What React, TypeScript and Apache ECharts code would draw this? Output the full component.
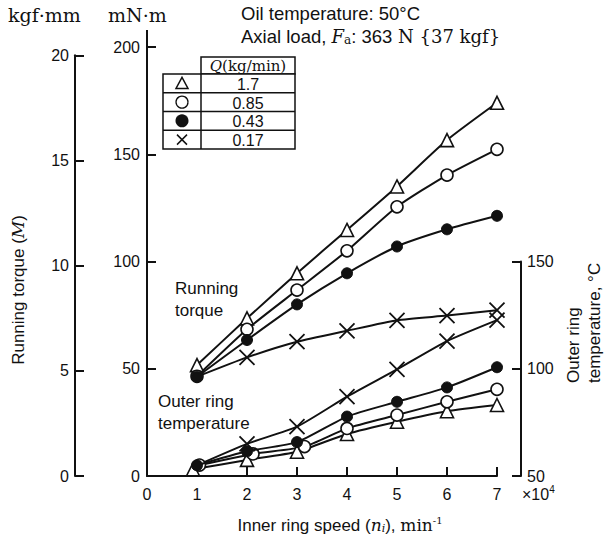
import React, { useEffect, useRef } from "react";
import * as echarts from "echarts";

// Inner ring speed, x10^4 min^-1
const speeds = [1, 2, 3, 4, 5, 6, 7];
const speedsTempTri = [0.92, 2, 3, 4, 5, 6, 7];
const speedsTempOpen = [1.05, 2.12, 3.15, 4, 5, 6, 7];
const flowRates = ["1.7", "0.85", "0.43", "0.17"];

// Running torque, mN·m
const torqueTri = [51.7, 73.5, 94.5, 114.7, 135, 156.6, 174];
const torqueOpen = [46.5, 68.4, 86.7, 105, 125.5, 140.3, 152.3];
const torqueFilled = [46.3, 63.4, 80, 94.5, 107, 115, 121.3];
const torqueCross = [46.3, 55.3, 62.6, 67.7, 72.6, 74.8, 77.3];

// Outer ring temperature, °C
const tempTri = [53.1, 57.5, 61.3, 69.6, 75.3, 80.2, 83.1];
const tempOpen = [55.1, 60.3, 63.7, 72.2, 78.4, 84.6, 90.4];
const tempFilled = [55, 61.5, 65.8, 77.7, 84.6, 91.3, 100.7];
const tempCross = [55, 65, 73, 87, 99.7, 112.9, 122.7];

const sans = "'Liberation Sans', Arial, Helvetica, sans-serif";
const serif = "'DejaVu Serif', 'Liberation Serif', serif";
const ink = "#111";
const CROSS = "path://M0,0L10,10M10,0L0,10";

const pairs = (xs: number[], ys: number[], hideFirst = false) =>
  xs.map((x, i) =>
    hideFirst && i === 0 ? { value: [x, ys[i]], symbol: "none" } : [x, ys[i]]
  );

type Kind = "tri" | "open" | "filled" | "cross";
const markerStyle = (k: Kind) => {
  if (k === "tri")
    return { symbol: "triangle", symbolSize: 13, itemStyle: { color: "#fff", borderColor: ink, borderWidth: 1.6 } };
  if (k === "open")
    return { symbol: "circle", symbolSize: 12, itemStyle: { color: "#fff", borderColor: ink, borderWidth: 1.6 } };
  if (k === "filled")
    return { symbol: "circle", symbolSize: 11, itemStyle: { color: ink, borderColor: ink, borderWidth: 1 } };
  return { symbol: CROSS, symbolSize: 15, itemStyle: { color: ink, borderColor: ink, borderWidth: 1.8 } };
};

const mkSeries = (name: string, k: Kind, data: any[], grid: number) => ({
  name,
  type: "line",
  xAxisIndex: grid,
  yAxisIndex: grid,
  data,
  smooth: 0.2,
  ...markerStyle(k),
  lineStyle: { color: ink, width: 2 },
  z: k === "filled" ? 3 : 2,
});

export default function App() {
  const ref = useRef<HTMLDivElement>(null);
  useEffect(() => {
    const chart = echarts.init(ref.current!, null, { renderer: "svg" });

    const axisLineStyle = { color: ink, width: 2 };
    const tickLabel = { color: ink, fontSize: 16, fontFamily: sans };

    // legend table
    const tX0 = 163, tX1 = 201, tX2 = 295, tY0 = 57, tY1 = 74, rowH = 18.75;
    const table: any[] = [
      { type: "rect", shape: { x: tX1, y: tY0, width: tX2 - tX1, height: tY1 - tY0 }, style: { fill: "#fff", stroke: ink, lineWidth: 1.5 } },
      { type: "rect", shape: { x: tX0, y: tY1, width: tX2 - tX0, height: rowH * 4 }, style: { fill: "#fff", stroke: ink, lineWidth: 1.5 } },
      { type: "line", shape: { x1: tX1, y1: tY1, x2: tX1, y2: tY1 + rowH * 4 }, style: { stroke: ink, lineWidth: 1.5 } },
      {
        type: "text", x: (tX1 + tX2) / 2, y: (tY0 + tY1) / 2,
        style: {
          text: "{q|Q}{u|(kg/min)}", align: "center", verticalAlign: "middle",
          rich: { q: { fontFamily: serif, fontStyle: "italic", fontSize: 15, fill: ink }, u: { fontFamily: serif, fontSize: 15, fill: ink } },
        },
      },
    ];
    for (let i = 0; i < 4; i++) {
      const cy = tY1 + rowH * i + rowH / 2;
      if (i > 0) table.push({ type: "line", shape: { x1: tX0, y1: tY1 + rowH * i, x2: tX2, y2: tY1 + rowH * i }, style: { stroke: ink, lineWidth: 1.5 } });
      table.push({ type: "text", x: (tX1 + tX2) / 2, y: cy + 1, style: { text: flowRates[i], align: "center", verticalAlign: "middle", fontFamily: sans, fontSize: 16, fill: ink } });
      const sx = (tX0 + tX1) / 2;
      if (i === 0) table.push({ type: "polygon", shape: { points: [[sx - 6, cy + 5], [sx + 6, cy + 5], [sx, cy - 6]] }, style: { fill: "#fff", stroke: ink, lineWidth: 1.5 } });
      if (i === 1) table.push({ type: "circle", shape: { cx: sx, cy, r: 6 }, style: { fill: "#fff", stroke: ink, lineWidth: 1.3 } });
      if (i === 2) table.push({ type: "circle", shape: { cx: sx, cy, r: 6.5 }, style: { fill: ink } });
      if (i === 3) {
        table.push({ type: "line", shape: { x1: sx - 5, y1: cy - 5, x2: sx + 5, y2: cy + 5 }, style: { stroke: ink, lineWidth: 1.5 } });
        table.push({ type: "line", shape: { x1: sx - 5, y1: cy + 5, x2: sx + 5, y2: cy - 5 }, style: { stroke: ink, lineWidth: 1.5 } });
      }
    }

    const yAxisBase = (extra: any) => ({
      type: "value",
      axisLine: { show: true, onZero: false, lineStyle: axisLineStyle },
      axisTick: { show: true, inside: true, length: 9, lineStyle: { color: ink, width: 2 } },
      splitLine: { show: false },
      ...extra,
    });

    const option: any = {
      animation: false,
      backgroundColor: "#fff",
      grid: [
        { left: 147, top: 47, width: 350, height: 429 },
        { left: 147, top: 261.5, width: 374, height: 214.5 },
        { left: 75, top: 55.3, width: 10, height: 420.7 },
      ],
      xAxis: [
        {
          gridIndex: 0, type: "value", min: 0, max: 7, interval: 1,
          axisLine: { show: true, onZero: false, lineStyle: axisLineStyle },
          axisTick: { show: true, inside: true, length: 9, lineStyle: { color: ink, width: 2 } },
          axisLabel: { ...tickLabel, margin: 10 },
          splitLine: { show: false },
        },
        { gridIndex: 1, type: "value", min: 0, max: 7.48, show: false },
        { gridIndex: 2, type: "value", min: 0, max: 1, show: false },
      ],
      yAxis: [
        yAxisBase({ gridIndex: 0, position: "left", min: 0, max: 200, interval: 50, axisLabel: { ...tickLabel, margin: 7 } }),
        yAxisBase({ gridIndex: 1, position: "right", min: 50, max: 150, interval: 50, axisLabel: { ...tickLabel, margin: 6 } }),
        yAxisBase({ gridIndex: 2, position: "left", min: 0, max: 20, interval: 5, axisLabel: { ...tickLabel, margin: 6 } }),
      ],
      series: [
        mkSeries("torque 1.7", "tri", pairs(speeds, torqueTri), 0),
        mkSeries("torque 0.85", "open", pairs(speeds, torqueOpen), 0),
        mkSeries("torque 0.43", "filled", pairs(speeds, torqueFilled), 0),
        mkSeries("torque 0.17", "cross", pairs(speeds, torqueCross, true), 0),
        mkSeries("temp 1.7", "tri", pairs(speedsTempTri, tempTri), 1),
        mkSeries("temp 0.85", "open", pairs(speedsTempOpen, tempOpen), 1),
        mkSeries("temp 0.43", "filled", pairs(speeds, tempFilled), 1),
        mkSeries("temp 0.17", "cross", pairs(speeds, tempCross, true), 1),
      ],
      graphic: [
        { type: "line", shape: { x1: 147, y1: 30, x2: 147, y2: 48 }, style: { stroke: ink, lineWidth: 2 } },
        { type: "text", x: 8, y: 15, style: { text: "kgf·mm", fontFamily: serif, fontSize: 19, fill: ink, verticalAlign: "middle" } },
        { type: "text", x: 108, y: 15, style: { text: "mN·m", fontFamily: serif, fontSize: 19, fill: ink, verticalAlign: "middle" } },
        { type: "text", x: 241, y: 13, style: { text: "Oil temperature: 50°C", fontFamily: sans, fontSize: 18.5, fill: ink, verticalAlign: "middle" } },
        {
          type: "text", x: 241, y: 36,
          style: {
            text: "{s|Axial load, }{f|F}{sub|a}{s|: 363}{n| N {37 kgf}}",
            verticalAlign: "middle",
            fontFamily: serif, fontSize: 18, fill: ink,
            rich: {
              s: { fontFamily: sans, fontSize: 18.5, fill: ink },
              f: { fontFamily: serif, fontStyle: "italic", fontSize: 18, fill: ink },
              sub: { fontFamily: serif, fontSize: 12, fill: ink, padding: [8, 0, 0, 0] },
              n: { fontFamily: serif, fontSize: 18, fill: ink },
            },
          },
        },
        ...table,
        { type: "text", x: 175, y: 299, style: { text: "Running\ntorque", fontFamily: sans, fontSize: 17, lineHeight: 22, fill: ink, verticalAlign: "middle" } },
        { type: "text", x: 158, y: 412, style: { text: "Outer ring\ntemperature", fontFamily: sans, fontSize: 17, lineHeight: 22, fill: ink, verticalAlign: "middle" } },
        {
          type: "text", x: 18, y: 290, rotation: Math.PI / 2,
          style: {
            text: "{s|Running torque (}{m|M}{s|)}", align: "center", verticalAlign: "middle",
            rich: { s: { fontFamily: sans, fontSize: 17, fill: ink }, m: { fontFamily: serif, fontStyle: "italic", fontSize: 17, fill: ink } },
          },
        },
        {
          type: "text", x: 584, y: 383, rotation: Math.PI / 2,
          style: { text: "Outer ring\ntemperature, °C", fontFamily: sans, fontSize: 17, lineHeight: 21, fill: ink, align: "left", verticalAlign: "middle" },
        },
        {
          type: "text", x: 522, y: 494,
          style: {
            text: "{s|×10}{p|4}", verticalAlign: "middle",
            rich: { s: { fontFamily: sans, fontSize: 16, fill: ink }, p: { fontFamily: sans, fontSize: 10, fill: ink, padding: [0, 0, 9, 0] } },
          },
        },
        {
          type: "text", x: 340, y: 525,
          style: {
            text: "{s|Inner ring speed (}{n|n}{i|i}{s|), }{m|min}{e|-1}",
            align: "center", verticalAlign: "middle",
            rich: {
              s: { fontFamily: sans, fontSize: 17, fill: ink },
              n: { fontFamily: serif, fontStyle: "italic", fontSize: 17, fill: ink },
              i: { fontFamily: serif, fontStyle: "italic", fontSize: 11, fill: ink, padding: [7, 0, 0, 0] },
              m: { fontFamily: serif, fontSize: 17, fill: ink },
              e: { fontFamily: serif, fontSize: 10, fill: ink, padding: [0, 0, 9, 0] },
            },
          },
        },
      ],
    };
    chart.setOption(option);
    return () => chart.dispose();
  }, []);
  return (
    <div
      ref={ref}
      style={{ position: "fixed", left: 0, top: 0, width: 610, height: 541, background: "#fff" }}
    />
  );
}
